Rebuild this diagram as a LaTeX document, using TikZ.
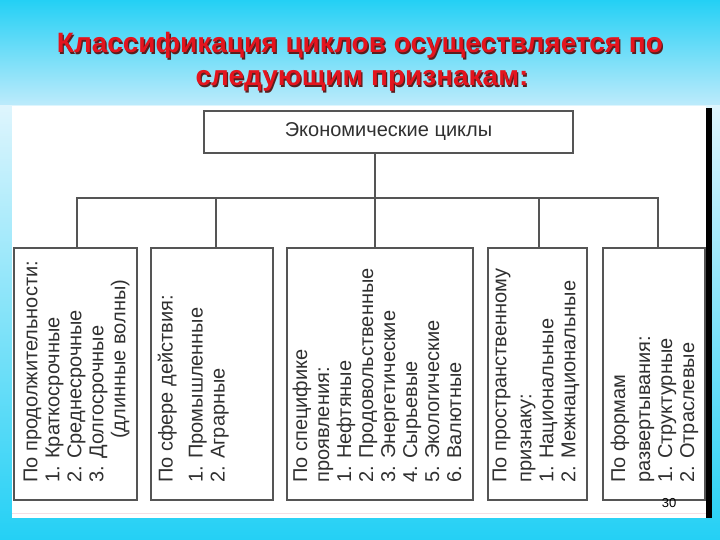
\documentclass[tikz,border=0pt]{standalone}
\usepackage{fontspec}
\setmainfont{Liberation Sans}
\definecolor{cyanA}{RGB}{36,208,245}
\definecolor{lightA}{RGB}{190,235,251}
\definecolor{paleA}{RGB}{222,245,253}
\definecolor{midA}{RGB}{160,228,249}
\definecolor{titleRed}{RGB}{228,20,30}
\definecolor{shadowC}{RGB}{90,30,30}
\definecolor{lineC}{RGB}{85,85,85}
\definecolor{textC}{RGB}{48,48,48}
\definecolor{pinkC}{RGB}{246,222,228}
\begin{document}
\begin{tikzpicture}[x=1pt,y=-1pt,
  titlestyle/.style={anchor=base,inner sep=0,font=\fontsize{28}{34}\selectfont\bfseries},
  box/.style={draw=lineC,line width=2pt,fill=white,inner sep=0,anchor=north west},
  conn/.style={draw=lineC,line width=2.5pt},
  boxtext/.style={rotate=90,anchor=north west,align=left,inner sep=0,
    font=\fontsize{20}{22}\selectfont,text=textC}]
\useasboundingbox (0,0) rectangle (720,540);
% background
\shade[top color=cyanA,bottom color=lightA] (0,0) rectangle (720,106);
\shade[top color=paleA,middle color=midA,bottom color=cyanA] (0,106) rectangle (720,540);
\fill[white] (12,106) rectangle (706,518);
\draw[pinkC,line width=0.6pt] (12,513) -- (706,513);
\fill[black] (706,108) rectangle (712,518);
% title
\node[titlestyle,text=shadowC] (t1s) at (361.3,54.3) {Классификация циклов осуществляется по};
\node[titlestyle,text=titleRed] (t1) at (360,53) {Классификация циклов осуществляется по};
\node[titlestyle,text=shadowC] (t2s) at (363.3,87.3) {следующим признакам:};
\node[titlestyle,text=titleRed] (t2) at (362,86) {следующим признакам:};
% top box
\node[box,minimum width=369pt,minimum height=42pt,font=\fontsize{20}{22}\selectfont,text=textC] (top) at (203,110) {Экономические циклы};
% connector points
\coordinate (hub) at (375,198);
\coordinate (d1) at (77,198);
\coordinate (d2) at (216,198);
\coordinate (d4) at (539,198);
\coordinate (d5) at (658,198);
% lower boxes (frames)
\node[box,minimum width=123pt,minimum height=252pt] (box1) at (13,247) {};
\node[box,minimum width=122pt,minimum height=252pt] (box2) at (150,247) {};
\node[box,minimum width=186pt,minimum height=252pt] (box3) at (286,247) {};
\node[box,minimum width=99pt,minimum height=252pt] (box4) at (487,247) {};
\node[box,minimum width=102pt,minimum height=252pt] (box5) at (602,247) {};
% connectors
\draw[conn] (hub |- top.south) -- (hub);
\draw[conn,line join=miter] (box1.north -| d1) -- (d1) -- (d5) -- (box5.north -| d5);
\draw[conn] (d2) -- (box2.north -| d2);
\draw[conn] (hub) -- (box3.north -| hub);
\draw[conn] (d4) -- (box4.north -| d4);
% texts
\node[boxtext] (tx1) at (23.5,483) {По продолжительности:\\ 1. Краткосрочные\\ 2. Среднесрочные\\ 3. Долгосрочные\\ \hspace*{44pt}(длинные волны)};
\node[boxtext] (tx2) at (157.5,483) {По сфере действия:\\[8pt] 1. Промышленные\\ 2. Аграрные};
\node[boxtext] (tx3) at (292.5,483) {По специфике\\ проявления:\\ 1. Нефтяные\\ 2. Продовольственные\\ 3. Энергетические\\ 4. Сырьевые\\ 5. Экологические\\ 6. Валютные};
\node[boxtext] (tx4) at (492.5,483) {По пространственному\\[3pt] признаку:\\ 1. Национальные\\ 2. Межнациональные};
\node[boxtext] (tx5) at (610.5,483) {По формам\\[3pt] развертывания:\\ 1. Структурные\\ 2. Отраслевые};
\node[inner sep=0,font=\fontsize{13}{15}\selectfont] (pg) at (669,503) {30};
\end{tikzpicture}
\end{document}
